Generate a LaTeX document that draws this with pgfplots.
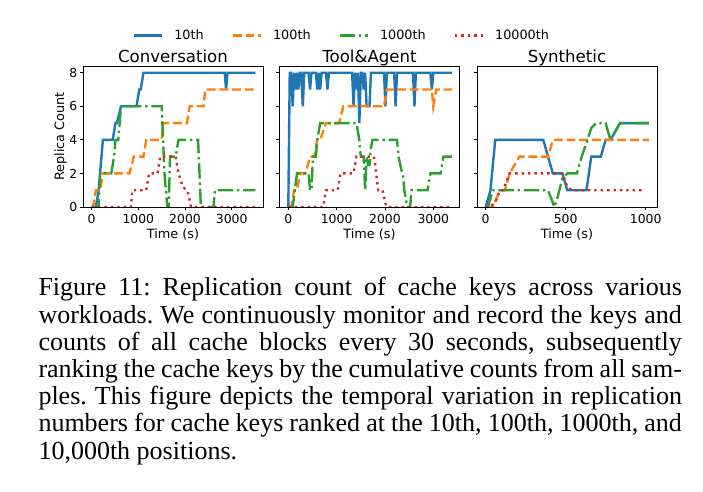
\documentclass[border=0pt]{standalone}
\usepackage{fontspec}
\setmainfont{DejaVu Sans}
\newfontfamily\capfont{Liberation Serif}
\usepackage{pgfplots}
\pgfplotsset{compat=1.18}

\definecolor{tabblue}{HTML}{1F77B4}
\definecolor{taborange}{HTML}{FF7F0E}
\definecolor{tabgreen}{HTML}{2CA02C}
\definecolor{tabred}{HTML}{D62728}

\newcommand\ticksize{\fontsize{12.4bp}{14bp}\selectfont}
\newcommand\labsize{\fontsize{12.8bp}{15bp}\selectfont}
\newcommand\titsize{\fontsize{16.6bp}{19bp}\selectfont}
\newcommand\caprm{\capfont\fontsize{26bp}{27.2bp}\selectfont\frenchspacing}

\pgfplotsset{
  every axis title shift=0pt,
  panel/.style={
    width=180bp, height=141bp, scale only axis,
    anchor=south west,
    ymin=0, ymax=8.4,
    ytick={0,2,4,6,8},
    tick pos=left,
    tick align=outside,
    major tick length=3.5bp,
    tick style={line width=0.8bp, black},
    axis line style={line width=0.8bp},
    /pgf/number format/1000 sep={},
    /pgf/number format/assume math mode=true,
    ticklabel style={font=\ticksize},
    xticklabel style={anchor=base, inner sep=0pt, yshift=-13bp},
    yticklabel style={anchor=east, inner sep=0pt, xshift=-1bp},
    title style={font=\titsize, at={(axis description cs:0.5,1.025)}, anchor=base},
    xlabel style={font=\labsize, at={(axis description cs:0.5,-0.223)}, anchor=base},
    ylabel style={font=\labsize, at={(axis description cs:-0.105,0.5)}, anchor=base},
    xlabel={Time (s)},
    line width=2.4bp,
  },
  s10/.style={tabblue, solid, line width=2.4bp},
  s100/.style={taborange, line width=2.4bp, dash pattern=on 8.9bp off 3.8bp},
  s1000/.style={tabgreen, line width=2.4bp, dash pattern=on 15.4bp off 3.8bp on 2.4bp off 3.8bp},
  s10000/.style={tabred, line width=2.4bp, dash pattern=on 2.4bp off 4bp},
}

\begin{document}
\begin{tikzpicture}
\path[use as bounding box] (0bp,0bp) rectangle (703bp,492bp);

% Conversation
\begin{axis}[panel, at={(83bp,285bp)},
  title={Conversation}, ylabel={Replica Count},
  xmin=-186, xmax=3671, xtick={0,1000,2000,3000},
  legend columns=4,
  legend style={at={(axis description cs:1.433,1.215)}, anchor=center,
    draw=none, fill=none, font=\labsize, inner sep=0pt,
    nodes={inner sep=0pt},
    /tikz/every odd column/.append style={column sep=11bp},
    /tikz/every even column/.append style={column sep=28bp}},
  legend image code/.code={\draw[#1] (0bp,0bp) -- (28bp,0bp);},
]
\addplot[s10] coordinates {
(0,0) (90,0) (150,1) (240,4) (450,4) (510,5) (540,5) (630,6) (960,6)
(1020,7) (1050,7) (1110,8) (2850,8) (2880,7) (2910,8) (3510,8)};
\addlegendentry{10th}
\addplot[s100] coordinates {
(0,0) (30,0) (90,1) (180,1) (240,2) (810,2) (900,3) (1110,3) (1170,4)
(1500,4) (1530,5) (2040,5) (2100,6) (2400,6) (2430,7) (3510,7)};
\addlegendentry{100th}
\addplot[s1000] coordinates {
(0,0) (150,0) (180,2) (420,2) (480,3) (510,4) (570,4) (630,6) (1500,6)
(1530,4) (1560,2) (1590,1) (1620,0) (1650,0) (1680,3) (1800,3) (1860,4)
(2280,4) (2340,0) (2610,0) (2640,1) (3510,1)};
\addlegendentry{1000th}
\addplot[s10000] coordinates {
(0,0) (840,0) (870,1) (1170,1) (1230,2) (1410,2) (1470,3) (1800,3)
(1830,2.5) (1860,2) (1920,1.5) (1950,1.2) (2040,1) (2070,0.8) (2100,0.4)
(2130,0) (3510,0)};
\addlegendentry{10000th}
\end{axis}

% Tool&Agent
\begin{axis}[panel, at={(279.5bp,285bp)},
  title={Tool\&Agent}, yticklabels={},
  xmin=-182, xmax=3542, xtick={0,1000,2000,3000},
]
\addplot[s10] coordinates {
(0,0) (30,8) (60,8) (90,6) (120,8) (150,7) (180,8) (210,7) (240,8) (270,8)
(300,6) (330,8) (420,8) (450,7) (480,8) (570,8) (600,7) (630,8) (660,7)
(690,8) (780,8) (810,7) (840,8) (1320,8) (1350,6) (1380,8) (1410,7)
(1440,8) (1470,5) (1500,8) (1530,8) (1560,7) (1590,8) (1620,6) (1650,6)
(1680,6) (1710,8) (1980,8) (2010,6) (2040,8) (2190,8) (2220,6) (2250,8)
(2580,8) (2610,6) (2640,8) (2940,8) (2970,7) (3000,8) (3390,8)};
\addplot[s100] coordinates {
(0,0) (60,0) (120,1) (180,1) (240,2) (360,2) (450,3) (540,3) (600,4)
(660,4) (780,5) (1050,5) (1140,6) (1980,6) (2040,7) (2970,7) (3000,6)
(3060,7) (3390,7)};
\addplot[s1000] coordinates {
(0,0) (90,0) (180,2) (420,2) (450,1) (480,1) (510,3) (570,3) (600,4)
(660,5) (1410,5) (1470,4) (1500,3) (1560,3) (1590,1) (1620,3) (1650,2.5)
(1680,2.5) (1710,3.5) (1740,4) (2250,4) (2280,3) (2340,2.2) (2370,2)
(2400,1) (2460,0) (2520,0) (2550,1) (2880,1) (2940,2) (3150,2) (3210,3)
(3390,3)};
\addplot[s10000] coordinates {
(0,0) (720,0) (780,1) (1020,1) (1080,2) (1350,2) (1410,3) (1770,3)
(1800,2.5) (1830,1.7) (1860,1) (1950,1) (1980,0.6) (2010,0.2) (2040,0)
(3390,0)};
\end{axis}

% Synthetic
\begin{axis}[panel, at={(477bp,285bp)},
  title={Synthetic}, yticklabels={},
  xmin=-54, xmax=1071, xtick={0,500,1000},
]
\addplot[s10] coordinates {
(0,0) (30,1) (60,4) (360,4) (420,2) (480,2) (510,1) (630,1) (660,3)
(720,3) (750,4) (780,4) (840,5) (1020,5)};
\addplot[s100] coordinates {
(0,0) (45,0) (90,1) (120,1) (150,2) (210,3) (390,3) (420,4) (1020,4)};
\addplot[s1000] coordinates {
(0,0) (15,0) (45,1) (390,1) (430,0) (450,0.6) (480,1.7) (510,2) (570,2)
(600,3) (630,3.8) (660,4.7) (690,5) (750,5) (780,4) (840,5) (1020,5)};
\addplot[s10000] coordinates {
(0,0) (30,0) (60,0.3) (90,1) (110,1) (150,2) (480,2) (510,1.2) (540,1)
(1000,1)};
\end{axis}

% caption
\caprm
\node[anchor=base west, inner sep=0pt] at (38.3bp,196bp)
  {\makebox[643.4bp][s]{Figure 11: Replication count of cache keys across various}};
\node[anchor=base west, inner sep=0pt] at (38.3bp,168.8bp)
  {\makebox[643.4bp][s]{workloads. We continuously monitor and record the keys and}};
\node[anchor=base west, inner sep=0pt] at (38.3bp,141.6bp)
  {\makebox[643.4bp][s]{counts of all cache blocks every 30 seconds, subsequently}};
\node[anchor=base west, inner sep=0pt] at (38.3bp,114.4bp)
  {\makebox[643.4bp][s]{ranking the cache keys by the cumulative counts from all sam-}};
\node[anchor=base west, inner sep=0pt] at (38.3bp,87.2bp)
  {\makebox[643.4bp][s]{ples. This figure depicts the temporal variation in replication}};
\node[anchor=base west, inner sep=0pt] at (38.3bp,60bp)
  {\makebox[643.4bp][s]{numbers for cache keys ranked at the 10th, 100th, 1000th, and}};
\node[anchor=base west, inner sep=0pt] at (38.3bp,32.8bp)
  {10,000th positions.};
\end{tikzpicture}
\end{document}
